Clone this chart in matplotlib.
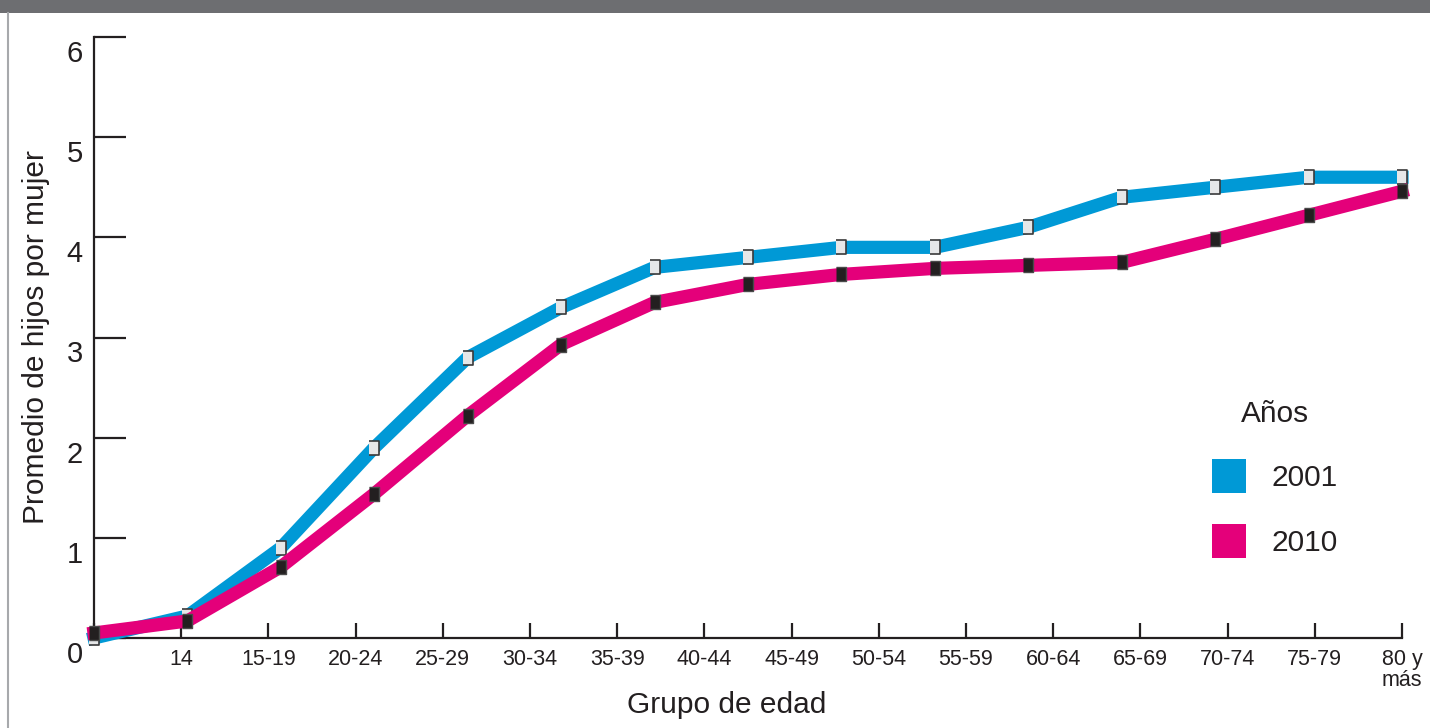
import numpy as np
import matplotlib
matplotlib.use('Agg')
import matplotlib.pyplot as plt
from matplotlib.patches import Patch, Rectangle
from matplotlib.lines import Line2D
from matplotlib.transforms import ScaledTranslation

plt.rcParams['font.family'] = ['Liberation Sans', 'DejaVu Sans']

# grupos de edad (marcas del eje x, la primera es el origen)
grupos = ['', '14', '15-19', '20-24', '25-29', '30-34', '35-39', '40-44', '45-49',
          '50-54', '55-59', '60-64', '65-69', '70-74', '75-79', '80 y\nmás']
# promedio de hijos por mujer
serie_2001 = [0.0, 0.22, 0.90, 1.90, 2.80, 3.30, 3.70, 3.80, 3.90, 3.90, 4.10, 4.40, 4.50, 4.60, 4.60]
serie_2010 = [0.05, 0.17, 0.71, 1.44, 2.22, 2.93, 3.35, 3.53, 3.63, 3.69, 3.72, 3.75, 3.98, 4.22, 4.46]
anios = ['2001', '2010']

AZUL = '#0099d6'
MAGENTA = '#e4007a'
TINTA = '#231f20'

W, H = 1430, 728
fig = plt.figure(figsize=(W / 100, H / 100), dpi=100)

# barra gris superior y borde izquierdo
fig.patches.append(Rectangle((0, 1 - 13 / H), 1, 13 / H, transform=fig.transFigure,
                             facecolor='#6d6e71', edgecolor='none'))
fig.lines.append(Line2D([8 / W, 8 / W], [0, 1 - 13 / H], transform=fig.transFigure,
                        color='#a7a9ac', lw=1.5))

ax = fig.add_axes([94 / W, 1 - 638 / H, (1402 - 94) / W, (638 - 37) / H])

# los puntos no caen exactamente sobre las marcas (como en el original)
xs = np.linspace(0, len(grupos) - 1, len(serie_2001))
rect = [(-0.38, -0.5), (0.38, -0.5), (0.38, 0.5), (-0.38, 0.5)]

ax.plot(xs, serie_2001, color=AZUL, lw=9.5, solid_joinstyle='miter', clip_on=False, zorder=3)
ax.plot(xs, serie_2001, ls='none', marker=rect, ms=10, mfc='#e6e7e8', mec='#3a3a3a',
        mew=1.2, clip_on=False, zorder=4)
ax.plot(xs, serie_2010, color=MAGENTA, lw=9.5, solid_joinstyle='miter', clip_on=False, zorder=5)
ax.plot(xs, serie_2010, ls='none', marker=rect, ms=10, mfc=TINTA, mec='#4a4a4a',
        mew=1.0, clip_on=False, zorder=6)

ax.set_xlim(0, len(grupos) - 1)
ax.set_ylim(0, 6)

for s in ['top', 'right']:
    ax.spines[s].set_visible(False)
for s in ['left', 'bottom']:
    ax.spines[s].set_linewidth(1.6)
    ax.spines[s].set_color(TINTA)

ax.set_xticks(range(len(grupos)))
ax.set_xticklabels(grupos, fontsize=15.5, color=TINTA, linespacing=1.0)
ax.set_yticks(range(7))
ax.tick_params(axis='x', direction='in', length=11, width=1.6, color=TINTA, pad=8)
ax.tick_params(axis='y', direction='in', length=23, width=1.6, color=TINTA, pad=8,
               labelsize=21, labelcolor=TINTA)
for lab in ax.get_yticklabels():
    lab.set_transform(lab.get_transform() + ScaledTranslation(0, -0.14, fig.dpi_scale_trans))

ax.set_xlabel('Grupo de edad', fontsize=21.5, color=TINTA)
ax.xaxis.set_label_coords((727 - 94) / (1402 - 94), -0.088)
ax.set_ylabel('Promedio de hijos por mujer', fontsize=21.5, color=TINTA)
ax.yaxis.set_label_coords(-0.034, 0.5)

handles = [Patch(facecolor=AZUL, edgecolor='none'), Patch(facecolor=MAGENTA, edgecolor='none')]
leg = ax.legend(handles, anios, title='Años', frameon=False, fontsize=21.5, title_fontsize=21.5,
                handlelength=1.15, handleheight=1.35, handletextpad=0.85, labelspacing=1.05,
                borderpad=0, borderaxespad=0, loc='upper left',
                bbox_to_anchor=((1212 - 94) / (1402 - 94), (638 - 400) / 601))
for t in leg.get_texts():
    t.set_color(TINTA)
leg.get_title().set_color(TINTA)

fig.savefig('out.png', dpi=100)
